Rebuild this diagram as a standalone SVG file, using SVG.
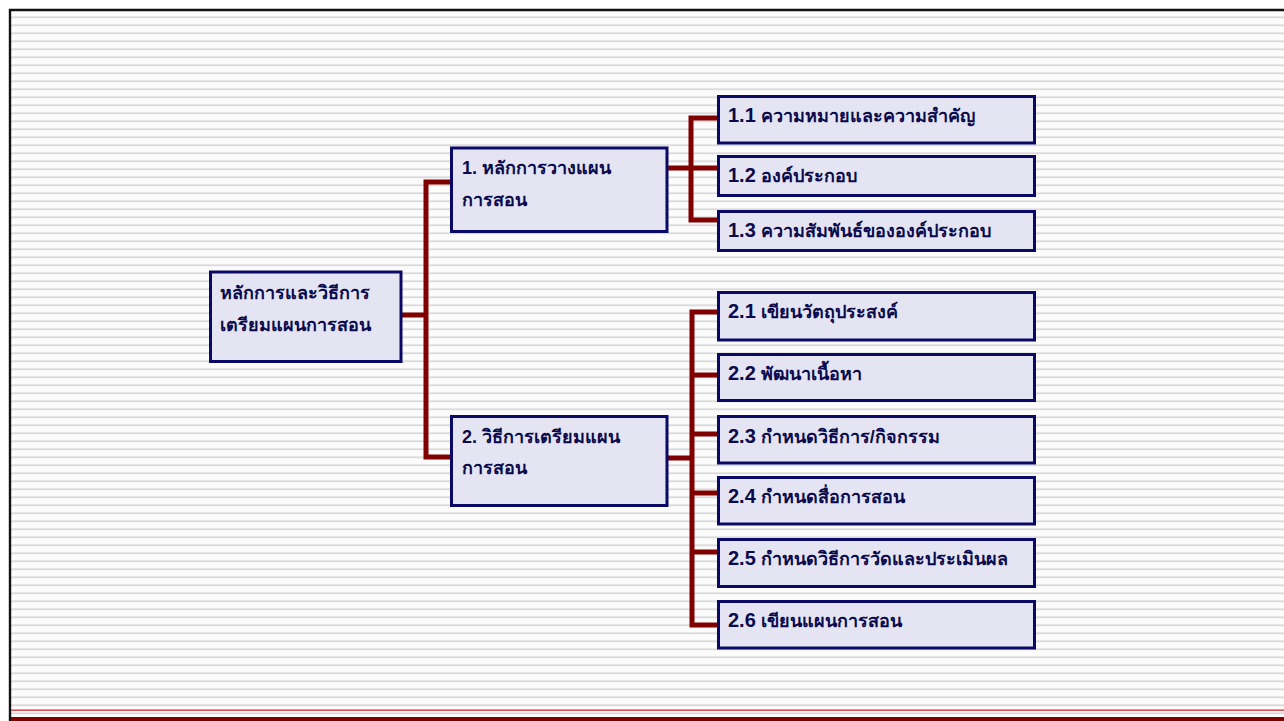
<svg xmlns="http://www.w3.org/2000/svg" width="1284" height="721" viewBox="0 0 1284 721">
  <defs>
    <pattern id="stripes" patternUnits="userSpaceOnUse" x="0" y="0" width="8" height="8">
      <rect x="0" y="0" width="8" height="8" fill="#fcfcfc"/>
      <rect x="0" y="0.4" width="8" height="1.8" fill="#dadada"/>
    </pattern>
  </defs>
  <style>
    .box { fill: #e4e4f2; stroke: #0a0a66; stroke-width: 3; }
    .wire { fill: none; stroke: #800000; stroke-width: 5; stroke-linejoin: miter; stroke-linecap: butt; }
    .lbl { font-family: "Liberation Sans", "Noto Sans", "DejaVu Sans", sans-serif; font-weight: bold; font-size: 18px; fill: #0a0a4c; }
    .num { font-size: 20px; }
  </style>

  <!-- slide background -->
  <rect x="0" y="0" width="1284" height="721" fill="#ffffff"/>
  <rect x="10" y="10" width="1274" height="711" fill="url(#stripes)"/>
  <path d="M10 721 V10 H1284" fill="none" stroke="#111111" stroke-width="2.4"/>
  <rect x="11" y="709.5" width="1273" height="1.3" fill="#d42a2a"/>
  <rect x="11" y="717" width="1273" height="4" fill="#800000"/>

  <!-- connectors -->
  <g id="connectors">
    <path class="wire" d="M401 315 H426"/>
    <path class="wire" d="M451 182 H426 V457 H451"/>
    <path class="wire" d="M667 168 H718"/>
    <path class="wire" d="M718 118 H691 V220 H718"/>
    <path class="wire" d="M667 458 H692"/>
    <path class="wire" d="M718 312 H692 V625 H718"/>
    <path class="wire" d="M692 375 H718"/>
    <path class="wire" d="M692 434 H718"/>
    <path class="wire" d="M692 493 H718"/>
    <path class="wire" d="M692 552 H718"/>
  </g>

  <!-- root -->
  <g id="root">
    <rect class="box" x="210.5" y="272" width="190.5" height="89.5"/>
    <text class="lbl" x="220" y="299">หลักการและวิธีการ</text>
    <text class="lbl" x="220" y="331">เตรียมแผนการสอน</text>
  </g>

  <!-- level 1 -->
  <g id="n1">
    <rect class="box" x="451.5" y="148" width="215.5" height="83.5"/>
    <text class="lbl" x="462" y="174">1. หลักการวางแผน</text>
    <text class="lbl" x="462" y="206">การสอน</text>
  </g>
  <g id="n2">
    <rect class="box" x="451.5" y="416.5" width="215.5" height="89"/>
    <text class="lbl" x="462" y="443">2. วิธีการเตรียมแผน</text>
    <text class="lbl" x="462" y="474">การสอน</text>
  </g>

  <!-- level 2 under 1 -->
  <g id="n1-1">
    <rect class="box" x="718.5" y="96.5" width="316" height="46.5"/>
    <text class="lbl" x="728" y="122"><tspan class="num">1.1</tspan> ความหมายและความสำคัญ</text>
  </g>
  <g id="n1-2">
    <rect class="box" x="718.5" y="156.5" width="316" height="39"/>
    <text class="lbl" x="728" y="182"><tspan class="num">1.2</tspan> องค์ประกอบ</text>
  </g>
  <g id="n1-3">
    <rect class="box" x="718.5" y="211.5" width="316" height="39"/>
    <text class="lbl" x="728" y="237"><tspan class="num">1.3</tspan> ความสัมพันธ์ขององค์ประกอบ</text>
  </g>

  <!-- level 2 under 2 -->
  <g id="n2-1">
    <rect class="box" x="718.5" y="292.5" width="316" height="47.5"/>
    <text class="lbl" x="728" y="318"><tspan class="num">2.1</tspan> เขียนวัตถุประสงค์</text>
  </g>
  <g id="n2-2">
    <rect class="box" x="718.5" y="354.5" width="316" height="46"/>
    <text class="lbl" x="728" y="380"><tspan class="num">2.2</tspan> พัฒนาเนื้อหา</text>
  </g>
  <g id="n2-3">
    <rect class="box" x="718.5" y="416.5" width="316" height="46.5"/>
    <text class="lbl" x="728" y="443"><tspan class="num">2.3</tspan> กำหนดวิธีการ/กิจกรรม</text>
  </g>
  <g id="n2-4">
    <rect class="box" x="718.5" y="477.5" width="316" height="46.5"/>
    <text class="lbl" x="728" y="503"><tspan class="num">2.4</tspan> กำหนดสื่อการสอน</text>
  </g>
  <g id="n2-5">
    <rect class="box" x="718.5" y="539.5" width="316" height="47"/>
    <text class="lbl" x="728" y="565"><tspan class="num">2.5</tspan> กำหนดวิธีการวัดและประเมินผล</text>
  </g>
  <g id="n2-6">
    <rect class="box" x="718.5" y="601.5" width="316" height="46.5"/>
    <text class="lbl" x="728" y="627"><tspan class="num">2.6</tspan> เขียนแผนการสอน</text>
  </g>
</svg>
